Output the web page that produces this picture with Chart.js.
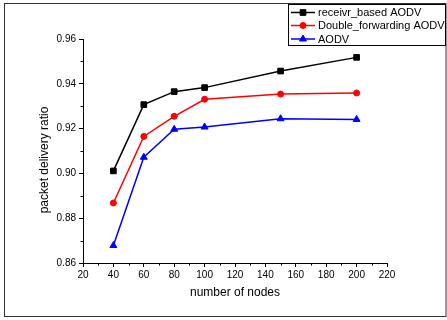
<!DOCTYPE html>
<html>
<head>
<meta charset="utf-8">
<script src="https://cdn.jsdelivr.net/npm/chart.js@4/dist/chart.umd.min.js"></script>
<style>
  html, body { margin: 0; padding: 0; background: #fff; }
  #wrap { width: 447px; height: 320px; position: relative; }
</style>
</head>
<body>
<div id="wrap"><canvas id="pdr"></canvas></div>
<script>
const nodes = [40, 60, 80, 100, 150, 200];
const receivrBased = [0.9011, 0.9307, 0.9365, 0.9383, 0.9457, 0.9518];
const doubleForwarding = [0.8868, 0.9165, 0.9255, 0.9331, 0.9354, 0.9359];
const aodv = [0.8678, 0.9072, 0.9197, 0.9207, 0.9244, 0.9241];
const seriesNames = ["receivr_based AODV", "Double_forwarding AODV", "AODV"];
const yTitle = "packet delivery ratio";

const FONT = "'Liberation Sans', Arial, sans-serif";

function toPoints(ys) {
  return nodes.map((x, i) => ({ x, y: ys[i] }));
}

// outer frame, minor ticks, y title and boxed legend
const extras = {
  id: "extras",
  afterDraw(chart) {
    const ctx = chart.ctx;
    const { x, y } = chart.scales;
    ctx.save();
    ctx.strokeStyle = "#333";
    ctx.lineWidth = 1;
    ctx.strokeRect(4.5, 3.5, 441.5, 313);

    // minor ticks
    ctx.strokeStyle = "#000";
    ctx.beginPath();
    for (let v = 30; v < 220; v += 20) {
      const px = Math.round(x.getPixelForValue(v)) + 0.5;
      ctx.moveTo(px, y.bottom);
      ctx.lineTo(px, y.bottom + 2.5);
    }
    for (let v = 0.87; v < 0.96; v += 0.02) {
      const py = Math.round(y.getPixelForValue(v)) + 0.5;
      ctx.moveTo(x.left, py);
      ctx.lineTo(x.left - 2.5, py);
    }
    ctx.stroke();

    // y axis title (sits a bit below the plot middle in the original)
    ctx.save();
    ctx.translate(45, 160);
    ctx.rotate(-Math.PI / 2);
    ctx.fillStyle = "#000";
    ctx.font = "12px " + FONT;
    ctx.textAlign = "center";
    ctx.textBaseline = "middle";
    ctx.fillText(yTitle, 0, 0);
    ctx.restore();

    // legend box
    ctx.fillStyle = "#fff";
    ctx.fillRect(288.5, 4.5, 157, 41);
    ctx.lineWidth = 1;
    ctx.strokeStyle = "#000";
    ctx.strokeRect(288.5, 4.5, 157, 41);
    const rows = [12.5, 25.5, 39];
    chart.data.datasets.forEach((ds, i) => {
      const ry = rows[i];
      ctx.strokeStyle = ds.borderColor;
      ctx.fillStyle = ds.borderColor;
      ctx.lineWidth = 1.5;
      ctx.beginPath();
      ctx.moveTo(291, ry);
      ctx.lineTo(315, ry);
      ctx.stroke();
      ctx.lineWidth = 1;
      Chart.helpers.drawPoint(ctx, {
        pointStyle: ds.pointStyle,
        radius: ds.pointRadius,
        borderWidth: 1
      }, 303, ry);
      ctx.fillStyle = "#000";
      ctx.font = "11px " + FONT;
      ctx.textAlign = "left";
      ctx.textBaseline = "middle";
      ctx.fillText(ds.label, 318, ry + 0.5);
    });
    ctx.restore();
  }
};

function dataset(label, ys, color, style, r) {
  return {
    label,
    data: toPoints(ys),
    borderColor: color,
    backgroundColor: color,
    pointBackgroundColor: color,
    pointBorderColor: color,
    pointStyle: style,
    pointRadius: r,
    pointBorderWidth: 1,
    borderWidth: 1.5,
    tension: 0,
    fill: false
  };
}

new Chart(document.getElementById("pdr"), {
  type: "line",
  data: {
    datasets: [
      dataset(seriesNames[0], receivrBased, "#000000", "rect", 4),
      dataset(seriesNames[1], doubleForwarding, "#ff0000", "circle", 3),
      dataset(seriesNames[2], aodv, "#0000ff", "triangle", 4)
    ]
  },
  options: {
    responsive: true,
    maintainAspectRatio: false,
    animation: false,
    layout: { padding: { left: 34, right: 60, top: 39, bottom: 17 } },
    plugins: { legend: { display: false }, tooltip: { enabled: false } },
    scales: {
      x: {
        type: "linear",
        min: 20,
        max: 220,
        afterFit: s => { s.height = 40; },
        border: { display: true, color: "#000", width: 1 },
        grid: { display: true, drawOnChartArea: false, drawTicks: true, tickLength: 4, color: "#000" },
        ticks: { stepSize: 20, color: "#000", padding: 2, maxRotation: 0, font: { family: FONT, size: 10 } },
        title: { display: true, text: "number of nodes", color: "#000", padding: { top: 4, bottom: 3 }, font: { family: FONT, size: 12 } }
      },
      y: {
        min: 0.86,
        max: 0.96,
        afterFit: s => { s.width = 49; },
        border: { display: true, color: "#000", width: 1 },
        grid: { display: true, drawOnChartArea: false, drawTicks: true, tickLength: 4, color: "#000" },
        ticks: { stepSize: 0.02, color: "#000", padding: 3, font: { family: FONT, size: 10 }, callback: v => v.toFixed(2) },
        title: { display: false }
      }
    }
  },
  plugins: [extras]
});
</script>
</body>
</html>
